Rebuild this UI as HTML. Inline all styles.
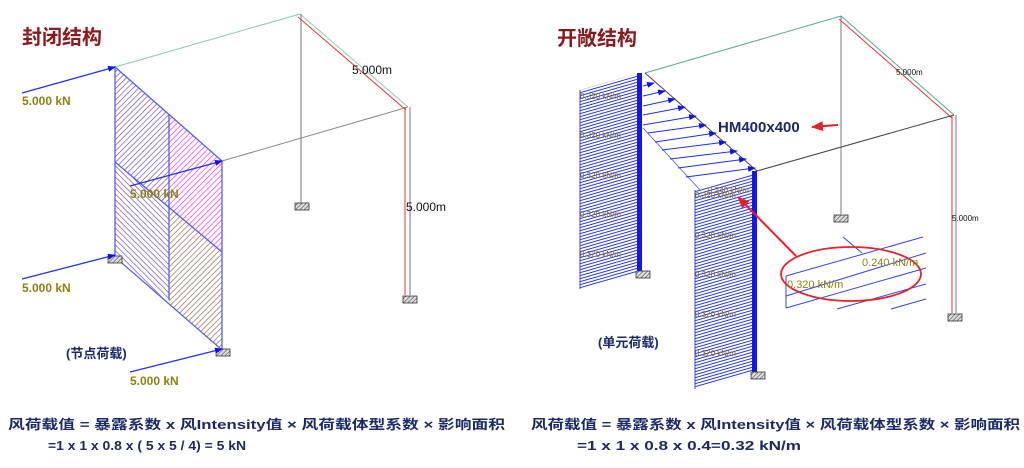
<!DOCTYPE html>
<html><head><meta charset="utf-8"><style>
html,body{margin:0;padding:0;background:#fff;width:1024px;height:468px;overflow:hidden}
svg{display:block}
text{font-family:"Liberation Sans","Noto Sans CJK SC",sans-serif}
</style></head><body>
<svg width="1024" height="468" viewBox="0 0 1024 468" xmlns="http://www.w3.org/2000/svg">
<defs>
<pattern id="hb" width="4" height="4" patternUnits="userSpaceOnUse" patternTransform="rotate(45)"><line x1="0" y1="0" x2="0" y2="4" stroke="#6a45a8" stroke-width="1.3"/></pattern>
<pattern id="hf" width="4" height="4" patternUnits="userSpaceOnUse" patternTransform="rotate(-45)"><line x1="0" y1="0" x2="0" y2="4" stroke="#6a45a8" stroke-width="1.3"/></pattern>
<pattern id="hm" width="4" height="4" patternUnits="userSpaceOnUse" patternTransform="rotate(45)"><line x1="0" y1="0" x2="0" y2="4" stroke="#ee22ee" stroke-width="1.3"/></pattern>
<pattern id="hbr" width="4" height="4" patternUnits="userSpaceOnUse" patternTransform="rotate(45)"><line x1="0" y1="0" x2="0" y2="4" stroke="#906040" stroke-width="1.3"/></pattern>
<pattern id="hw" width="10" height="3" patternUnits="userSpaceOnUse" patternTransform="skewY(-16)"><line x1="0" y1="1" x2="10" y2="1" stroke="#2233ee" stroke-width="1"/></pattern>
<pattern id="sup" width="3" height="3" patternUnits="userSpaceOnUse" patternTransform="rotate(45)"><rect width="3" height="3" fill="#ddd"/><line x1="0" y1="0" x2="0" y2="3" stroke="#333" stroke-width="1"/></pattern>
<marker id="ab" markerWidth="8" markerHeight="6" refX="7" refY="3" orient="auto" markerUnits="userSpaceOnUse"><path d="M0,0 L8,3 L0,6z" fill="#1010ee"/></marker>
<marker id="ar" markerWidth="12" markerHeight="10" refX="11" refY="5" orient="auto" markerUnits="userSpaceOnUse"><path d="M0,0 L12,5 L0,10z" fill="#e8202a"/></marker>
<g id="s"><rect x="-7" y="0" width="14" height="7" fill="url(#sup)" stroke="#333" stroke-width="0.8"/></g>
</defs>

<!-- LEFT -->
<text x="22" y="44" font-size="20" font-weight="bold" fill="#8b1a1f">封闭结构</text>
<line x1="115" y1="67" x2="300" y2="14" stroke="#8cc8b8" stroke-width="1"/>
<line x1="300" y1="14" x2="408" y2="107" stroke="#8cc8b8" stroke-width="1"/>
<line x1="298" y1="17" x2="406" y2="110" stroke="#ee3333" stroke-width="1"/>
<line x1="222" y1="161" x2="408" y2="107" stroke="#888" stroke-width="1"/>
<line x1="301" y1="14" x2="301" y2="204" stroke="#777" stroke-width="1"/>
<use href="#s" x="302" y="203"/>
<line x1="410" y1="107" x2="410" y2="295" stroke="#777" stroke-width="1"/>
<line x1="405" y1="107" x2="405" y2="295" stroke="#ee3333" stroke-width="1"/>
<use href="#s" x="410" y="296"/>
<text x="352" y="74" font-size="12" fill="#111">5.000m</text>
<text x="406" y="211" font-size="12" fill="#111">5.000m</text>

<polygon points="115,67 169,114 169,208 115,162" fill="url(#hb)"/>
<polygon points="169,114 222,161 222,252 169,208" fill="url(#hm)"/>
<polygon points="115,162 169,208 169,304 115,257" fill="url(#hf)"/>
<polygon points="169,208 222,252 222,350 169,304" fill="url(#hbr)"/>
<g stroke="#5060f0" stroke-width="1.3" fill="none">
<polygon points="115,67 222,161 222,350 115,257"/>
<line x1="169" y1="114" x2="169" y2="300"/>
<line x1="115" y1="162" x2="222" y2="252"/>
</g>
<use href="#s" x="115" y="256"/>
<use href="#s" x="223" y="349"/>
<g stroke="#2030ee" stroke-width="1.2" marker-end="url(#ab)">
<line x1="22" y1="93" x2="115" y2="67"/>
<line x1="22" y1="279" x2="115" y2="255"/>
<line x1="130" y1="372" x2="222" y2="349"/>
<line x1="130" y1="186" x2="222" y2="161"/>
</g>
<g font-size="12" font-weight="bold" fill="#8f8010">
<text x="22" y="105">5.000 kN</text>
<text x="22" y="292">5.000 kN</text>
<text x="130" y="385">5.000 kN</text>
<text x="130" y="198">5.000 kN</text>
</g>
<text x="66" y="358" font-size="13" font-weight="bold" fill="#1a2a6a">(节点荷载)</text>

<!-- RIGHT -->
<text x="557" y="45" font-size="20" font-weight="bold" fill="#8b1a1f">开敞结构</text>
<line x1="645" y1="73" x2="841" y2="16" stroke="#5aa898" stroke-width="1"/>
<line x1="841" y1="16" x2="954" y2="115" stroke="#5aa898" stroke-width="1"/>
<line x1="839" y1="19" x2="952" y2="118" stroke="#ee3333" stroke-width="1"/>
<line x1="757" y1="171" x2="954" y2="115" stroke="#444" stroke-width="1"/>
<line x1="841" y1="16" x2="841" y2="214" stroke="#777" stroke-width="1"/>
<use href="#s" x="841" y="215"/>
<line x1="956" y1="115" x2="956" y2="313" stroke="#777" stroke-width="1"/>
<line x1="952" y1="115" x2="952" y2="313" stroke="#ee3333" stroke-width="1"/>
<use href="#s" x="955" y="314"/>
<text x="896" y="75" font-size="8" fill="#111">5.000m</text>
<text x="952" y="221" font-size="8" fill="#111">5.000m</text>

<line x1="645" y1="73" x2="757" y2="171" stroke="#444" stroke-width="1"/>
<line x1="643" y1="128" x2="700" y2="190" stroke="#4050f0" stroke-width="0.8"/>
<g stroke="#2030ee" stroke-width="1" marker-end="url(#ab)">
<line x1="643" y1="86" x2="654" y2="83"/>
<line x1="643" y1="96" x2="665" y2="91"/>
<line x1="643" y1="106" x2="675" y2="99"/>
<line x1="643" y1="115" x2="685" y2="107"/>
<line x1="643" y1="125" x2="696" y2="116"/>
<line x1="648" y1="133" x2="706" y2="125"/>
<line x1="655" y1="142" x2="716" y2="133"/>
<line x1="662" y1="150" x2="726" y2="142"/>
<line x1="670" y1="159" x2="737" y2="151"/>
<line x1="678" y1="168" x2="746" y2="159"/>
<line x1="686" y1="177" x2="755" y2="168"/>
</g>
<polygon points="580,90 640,73 640,272 580,289" fill="url(#hw)"/>
<line x1="580" y1="90" x2="580" y2="289" stroke="#3344ee" stroke-width="1"/>
<rect x="637" y="73" width="5" height="200" fill="#1515ee"/>
<use href="#s" x="643" y="271"/>
<polygon points="695,190 755,173 755,372 695,389" fill="url(#hw)"/>
<line x1="695" y1="190" x2="695" y2="389" stroke="#3344ee" stroke-width="1"/>
<rect x="752" y="171" width="5" height="202" fill="#1515ee"/>
<use href="#s" x="758" y="372"/>
<g font-size="8" fill="#7f7010">
<text x="580" y="99">0.320 kN/m</text><text x="580" y="138">0.320 kN/m</text><text x="580" y="178">0.320 kN/m</text><text x="580" y="217">0.320 kN/m</text><text x="580" y="257">0.320 kN/m</text>
<text x="695" y="198">0.320 kN/m</text><text x="708" y="193">0.240 kN/m</text><text x="695" y="238">0.320 kN/m</text><text x="695" y="277">0.320 kN/m</text><text x="695" y="317">0.320 kN/m</text><text x="695" y="356">0.320 kN/m</text>
</g>
<text x="718" y="132" font-size="15" font-weight="bold" fill="#1a2a6a">HM400x400</text>
<line x1="838" y1="125" x2="812" y2="127" stroke="#e8202a" stroke-width="2" marker-end="url(#ar)"/>
<line x1="796" y1="256" x2="738" y2="197" stroke="#e8202a" stroke-width="2" marker-end="url(#ar)"/>
<g stroke="#3344ee" stroke-width="1">
<line x1="843" y1="237" x2="862" y2="253"/>
<line x1="786" y1="276" x2="923" y2="237"/>
<line x1="786" y1="296" x2="926" y2="253"/>
<line x1="786" y1="308" x2="926" y2="268"/>
<line x1="837" y1="309" x2="926" y2="284"/>
<line x1="891" y1="309" x2="926" y2="299"/>
<line x1="786" y1="276" x2="786" y2="308"/>
</g>
<ellipse cx="851" cy="274" rx="70" ry="27" fill="none" stroke="#e8202a" stroke-width="1.8"/>
<text x="862" y="266" font-size="11" fill="#8f8010">0.240 kN/m</text>
<text x="787" y="288" font-size="11" fill="#8f8010">0.320 kN/m</text>
<text x="598" y="347" font-size="13" font-weight="bold" fill="#1a2a6a">(单元荷载)</text>

<!-- formulas -->
<g font-size="13" fill="#1a2a6a" font-weight="bold">
<text x="8" y="429" textLength="497" lengthAdjust="spacingAndGlyphs">风荷载值 = 暴露系数 x 风Intensity值 × 风荷载体型系数 × 影响面积</text>
<text x="48" y="450" textLength="198" lengthAdjust="spacingAndGlyphs">=1 x 1 x 0.8 x ( 5 x 5 / 4) = 5 kN</text>
<text x="531" y="429" textLength="489" lengthAdjust="spacingAndGlyphs">风荷载值 = 暴露系数 x 风Intensity值 × 风荷载体型系数 × 影响面积</text>
<text x="577" y="450" textLength="224" lengthAdjust="spacingAndGlyphs">=1 x 1 x 0.8 x 0.4=0.32 kN/m</text>
</g>
</svg>
</body></html>
